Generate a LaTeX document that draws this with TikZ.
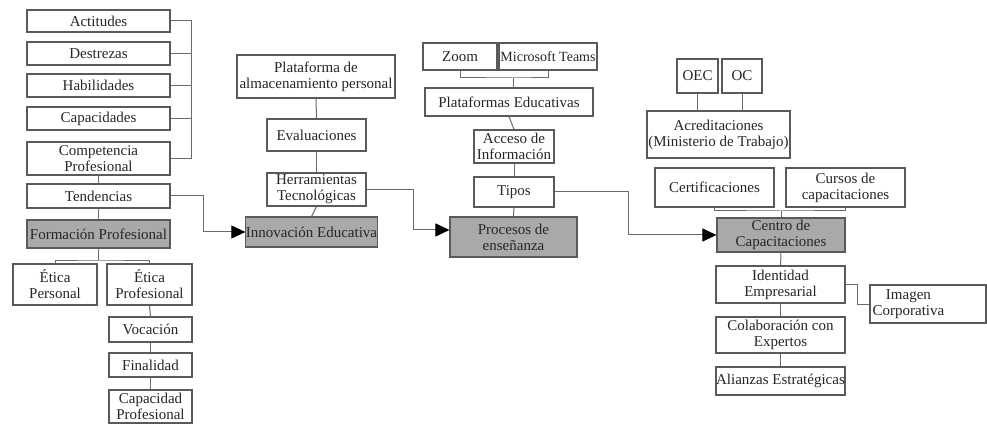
\documentclass[tikz,border=0pt]{standalone}
\usepackage{fontspec}
\setmainfont{Liberation Serif}
\usetikzlibrary{arrows.meta}
\definecolor{boxline}{HTML}{5A5A5A}
\definecolor{conn}{HTML}{6A6A6A}
\definecolor{grayfill}{HTML}{A9A9A9}
\definecolor{txt}{HTML}{262626}
\begin{document}
\begin{tikzpicture}[x=1pt,y=-1pt,
  box/.style={draw=boxline, line width=1.1pt, fill=white, inner sep=0pt, align=center,
    text=txt, font=\fontsize{15}{16}\selectfont},
  hub/.style={box, fill=grayfill},
  conline/.style={draw=conn, line width=1pt},
  arr/.style={conline, -{Triangle[length=14pt,width=13pt,fill=black,color=black]}}
]
\useasboundingbox (0,0) rectangle (987,430);
% left column
\node[box, minimum width=143, minimum height=22] (act) at (98.5,21) {Actitudes};
\node[box, minimum width=143, minimum height=23] (des) at (98.5,53.5) {Destrezas};
\node[box, minimum width=143, minimum height=23] (hab) at (98.5,85.5) {Habilidades};
\node[box, minimum width=143, minimum height=23] (cap) at (98.5,118.5) {Capacidades};
\node[box, minimum width=143, minimum height=33] (comp) at (98.5,158.5) {Competencia\\Profesional};
\node[box, minimum width=143, minimum height=24] (tend) at (98.5,196) {Tendencias};
\node[hub, minimum width=143, minimum height=28] (form) at (98.5,234) {Formación Profesional};
\node[box, minimum width=84, minimum height=41] (etp) at (55,284.5) {Ética\\Personal};
\node[box, minimum width=85, minimum height=41] (etpr) at (149.5,284.5) {Ética\\Profesional};
\node[box, minimum width=83, minimum height=25] (voc) at (150.5,329.5) {Vocación};
\node[box, minimum width=83, minimum height=24] (fin) at (150.5,365) {Finalidad};
\node[box, minimum width=83, minimum height=33] (capp) at (150.5,406.5) {Capacidad\\Profesional};
% middle column
\node[box, minimum width=158, minimum height=43] (plat) at (316,76.5) {Plataforma de\\almacenamiento personal};
\node[box, minimum width=99, minimum height=32] (eval) at (316.5,135) {Evaluaciones};
\node[box, minimum width=99, minimum height=33] (herr) at (316.5,189.5) {Herramientas\\Tecnológicas};
\node[hub, minimum width=129, minimum height=30] (innov) at (311.5,232) {Innovación Educativa};
% third column
\node[box, minimum width=74, minimum height=27] (zoom) at (460,56.5) {Zoom};
\node[box, minimum width=98, minimum height=27, font=\fontsize{14}{15}\selectfont] (teams) at (548,56.5) {Microsoft Teams};
\node[box, minimum width=168, minimum height=28] (pled) at (509,102) {Plataformas Educativas};
\node[box, minimum width=80, minimum height=33] (acc) at (514,146.5) {Acceso de\\Información};
\node[box, minimum width=80, minimum height=30] (tipos) at (514,192) {Tipos};
\node[hub, minimum width=127, minimum height=40] (proc) at (513.5,237) {Procesos de\\enseñanza};
% right column
\node[box, minimum width=41, minimum height=34] (oec) at (697.5,76) {OEC};
\node[box, minimum width=40, minimum height=34] (oc) at (742,76) {OC};
\node[box, minimum width=143, minimum height=47] (acred) at (718.5,134.5) {Acreditaciones\\(Ministerio de Trabajo)};
\node[box, minimum width=119, minimum height=39] (cert) at (714.5,187.5) {Certificaciones};
\node[box, minimum width=119, minimum height=39] (cursos) at (845.5,187.5) {Cursos de\\capacitaciones};
\node[hub, minimum width=128, minimum height=34] (centro) at (781,235) {Centro de\\Capacitaciones};
\node[box, minimum width=129, minimum height=37] (ident) at (780.5,284.5) {Identidad\\Empresarial};
\node[box, minimum width=129, minimum height=36] (colab) at (780.5,335) {Colaboración con\\Expertos};
\node[box, minimum width=129, minimum height=28] (alian) at (780.5,381) {Alianzas Estratégicas};
\node[box, minimum width=116, minimum height=38] (imagen) at (928,304) {};
\node[align=center, anchor=west, inner sep=0pt, text=txt, font=\fontsize{15}{16}\selectfont] (imagentxt) at ([xshift=3pt]imagen.west) {Imagen\\Corporativa};
% coordinates
\coordinate (bx) at (191,0);
\coordinate (t1) at (203,0);
\coordinate (fj) at (98.5,260);
\coordinate (h1) at (413,0);
\coordinate (pin) at ([yshift=7pt]proc.west);
\coordinate (zj) at (513,78);
\coordinate (p1) at (628,0);
\coordinate (cj) at (781,211);
% left connectors
\draw[conline] (act.east) -| (bx |- comp.east) -- (comp.east);
\draw[conline] (des.east) -- (des.east -| bx);
\draw[conline] (hab.east) -- (hab.east -| bx);
\draw[conline] (cap.east) -- (cap.east -| bx);
\draw[conline] (comp.south) -- (tend.north);
\draw[conline] (tend.south) -- (form.north);
\draw[conline] (form.south) -- (fj);
\draw[conline] (etp.north) |- (fj) -| (etpr.north);
\draw[conline] (etpr.south) -- (voc.north);
\draw[conline] (voc.south) -- (fin.north);
\draw[conline] (fin.south) -- (capp.north);
\draw[arr] (tend.east) -| (t1 |- innov.west) -- (innov.west);
% middle connectors
\draw[conline] (plat.south) -- (eval.north);
\draw[conline] (eval.south) -- (herr.north);
\draw[conline] (herr.south) -- (innov.north);
\draw[arr] (herr.east) -| (h1 |- pin) -- (pin);
% third connectors
\draw[conline] (zoom.south) |- (zj) -| (teams.south);
\draw[conline] (zj) -- (zj |- pled.north);
\draw[conline] (pled.south) -- (acc.north);
\draw[conline] (acc.south) -- (tipos.north);
\draw[conline] (tipos.south) -- (proc.north);
\draw[arr] (tipos.east) -| (p1 |- centro.west) -- (centro.west);
% right connectors
\draw[conline] (oec.south) -- (oec.south |- acred.north);
\draw[conline] (oc.south) -- (oc.south |- acred.north);
\draw[conline] (cert.south) |- (cj) -| (cursos.south);
\draw[conline] (cj) -- (centro.north);
\draw[conline] (centro.south) -- (ident.north);
\draw[conline] (ident.south) -- (colab.north);
\draw[conline] (colab.south) -- (alian.north);
\draw[conline] (ident.east) -- ++(12,0) |- (imagen.west);
\end{tikzpicture}
\end{document}
